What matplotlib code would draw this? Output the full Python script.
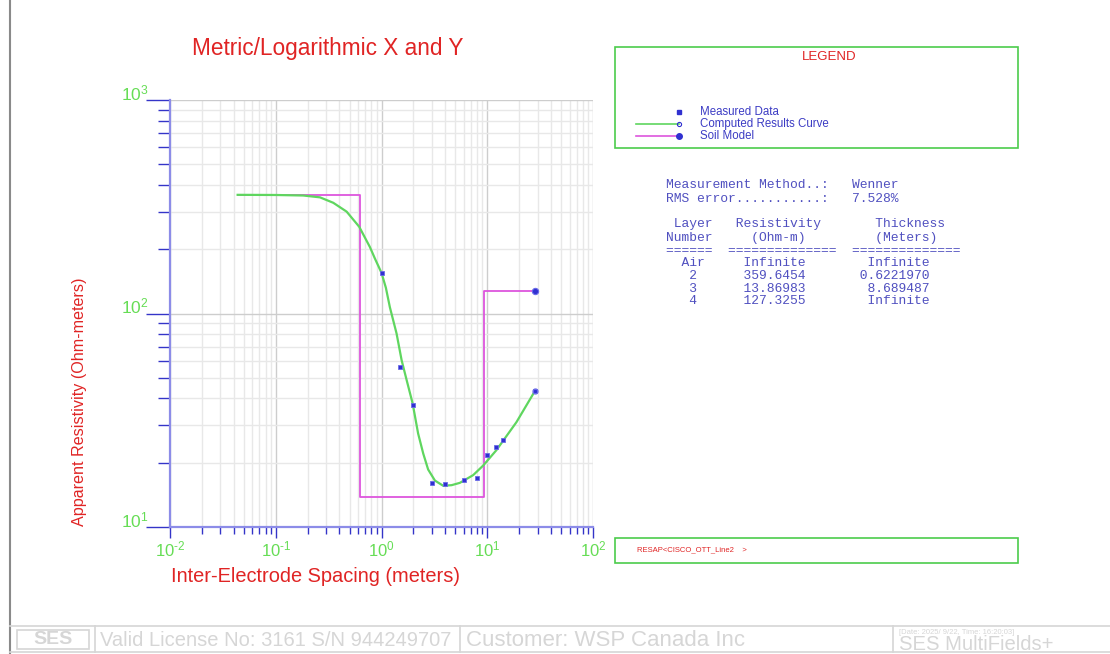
import numpy as np
import matplotlib
matplotlib.use("Agg")
import matplotlib.pyplot as plt
from matplotlib.ticker import LogLocator, NullFormatter
from matplotlib.transforms import blended_transform_factory
from matplotlib.patches import Rectangle

plt.rcParams['font.family'] = ['Liberation Sans', 'DejaVu Sans']
plt.rcParams['mathtext.fontset'] = 'custom'
plt.rcParams['mathtext.rm'] = 'Liberation Sans'
plt.rcParams['mathtext.it'] = 'Liberation Sans:italic'
plt.rcParams['mathtext.bf'] = 'Liberation Sans:bold'

# Measured apparent resistivity (Wenner array)
measured_x = [1, 1.5, 2, 3, 4, 6, 8, 10, 12, 14, 28]
measured_y = [154.6, 56.0, 37.4, 16.1, 15.9, 16.6, 17.0, 21.7, 23.7, 25.5, 43.3]

# Computed results curve
curve_x = [0.0436, 0.1, 0.182, 0.262, 0.35, 0.468, 0.615, 0.776, 0.866, 1.0, 1.1,
           1.2, 1.388, 1.55, 1.73, 1.97, 2.22, 2.48, 2.76, 3.2, 3.83, 4.6, 5.51,
           7.36, 9.15, 12.2, 18.9, 28.2]
curve_y = [359.6, 359, 357, 350, 330, 300, 255, 205, 181, 155, 132,
           107, 80.6, 60.4, 48.7, 37.9, 27.4, 22.1, 18.6, 16.5, 15.6, 15.7, 16.1,
           17.5, 19.4, 22.9, 31.0, 43.3]

# Soil model layers
layer_names = ['Air', '2', '3', '4']
layer_rho = [None, 359.6454, 13.86983, 127.3255]
layer_thick = [None, 0.6221970, 8.689487, None]
layer_rho_text = ['Infinite', '359.6454', '13.86983', '127.3255']
layer_thick_text = ['Infinite', '0.6221970', '8.689487', 'Infinite']
model_x_start = 0.0436
model_x_end = 28.2

x_ticks = [1e-2, 1e-1, 1e0, 1e1, 1e2]
x_tick_labels = ['$\\mathregular{10^{\u20102}}$', '$\\mathregular{10^{\u20101}}$',
                 r'$\mathregular{10^{0}}$', r'$\mathregular{10^{1}}$', r'$\mathregular{10^{2}}$']
y_ticks = [1e1, 1e2, 1e3]
y_tick_labels = [r'$\mathregular{10^{1}}$', r'$\mathregular{10^{2}}$', r'$\mathregular{10^{3}}$']

# staircase for the soil model
d1 = layer_thick[1]
d2 = layer_thick[1] + layer_thick[2]
model_x = [model_x_start, d1, d1, d2, d2, model_x_end]
model_y = [layer_rho[1], layer_rho[1], layer_rho[2], layer_rho[2], layer_rho[3], layer_rho[3]]

W, H = 1110, 654
fig = plt.figure(figsize=(W / 100, H / 100), dpi=100)
fig.patch.set_facecolor('white')

# page overlay in pixel coordinates
page = fig.add_axes([0, 0, 1, 1], zorder=0)
page.set_xlim(0, W)
page.set_ylim(H, 0)
page.axis('off')

ax = fig.add_axes([170 / W, 1 - 527 / H, 423 / W, 427 / H], zorder=1)
ax.set_xscale('log')
ax.set_yscale('log')
ax.set_xlim(1e-2, 1e2)
ax.set_ylim(1e1, 1e3)
ax.patch.set_alpha(0)

ax.xaxis.set_major_locator(LogLocator(base=10, numticks=10))
ax.xaxis.set_minor_locator(LogLocator(base=10, subs=np.arange(2, 10), numticks=20))
ax.yaxis.set_major_locator(LogLocator(base=10, numticks=10))
ax.yaxis.set_minor_locator(LogLocator(base=10, subs=np.arange(2, 10), numticks=20))
ax.xaxis.set_minor_formatter(NullFormatter())
ax.yaxis.set_minor_formatter(NullFormatter())

ax.grid(which='minor', color='#e8e8e8', lw=1.0)
ax.grid(which='major', color='#cdcdcd', lw=1.0)
ax.set_axisbelow(True)

tick_col = '#3434c8'
ax.tick_params(which='both', direction='out', colors=tick_col, width=1.0,
               labelleft=False, labelbottom=False)
ax.tick_params(axis='x', which='major', length=8)
ax.tick_params(axis='x', which='minor', length=5)
ax.tick_params(axis='y', which='major', length=17)
ax.tick_params(axis='y', which='minor', length=9)
for side in ['top', 'right']:
    ax.spines[side].set_visible(False)
for side in ['left', 'bottom']:
    ax.spines[side].set_color('#8c8ce8')
    ax.spines[side].set_linewidth(1.6)

green = '#5fd65f'
magenta = '#dd55dd'
blue = '#3030d0'

ax.plot(model_x, model_y, color=magenta, lw=1.3, zorder=3)
ax.plot(curve_x, curve_y, color=green, lw=1.6, zorder=4)
ax.plot(measured_x, measured_y, ls='none', marker='s', ms=3, color=blue,
        mec='#6a6ae8', mew=0.6, zorder=5)
ax.plot([curve_x[-1]], [curve_y[-1]], ls='none', marker='o', ms=3.5, mfc='none',
        mec='#6a6ae8', mew=1.0, zorder=6)
ax.plot([model_x[-1]], [model_y[-1]], ls='none', marker='o', ms=4.5, color=blue,
        mec='#6a6ae8', mew=0.8, zorder=6)

# tick labels
tx = blended_transform_factory(ax.transData, ax.transAxes)
for v, lab in zip(x_ticks, x_tick_labels):
    ax.text(v, -0.03, lab, transform=tx, ha='center', va='top', fontsize=12,
            color='#66dd55', clip_on=False)
ty = blended_transform_factory(ax.transAxes, ax.transData)
for v, lab in zip(y_ticks, y_tick_labels):
    ax.text(-0.05, v, lab, transform=ty, ha='right', va='baseline', fontsize=12.5,
            color='#66dd55', clip_on=False)

red = '#e02424'
page.text(192, 49, 'Metric/Logarithmic X and Y', color=red, fontsize=16.3, ha='left', va='center')
page.text(171, 577, 'Inter-Electrode Spacing (meters)', color=red, fontsize=14.4, ha='left', va='center')
page.text(80, 402, 'Apparent Resistivity (Ohm-meters)', color=red, fontsize=11.6,
          rotation=90, ha='center', va='center')

# legend box
box_green = '#4ccc4c'
page.add_patch(Rectangle((615, 47), 403, 101, fill=False, ec=box_green, lw=1.2))
page.text(829, 57, 'LEGEND', color=red, fontsize=9.5, ha='center', va='center')
leg_col = '#3c3cc4'
page.plot([679], [112], ls='none', marker='s', ms=2.5, color=blue)
page.plot([636, 679], [124, 124], color=green, lw=1.2)
page.plot([679], [124], ls='none', marker='o', ms=3, mfc='none', mec=blue, mew=0.8)
page.plot([636, 679], [136, 136], color=magenta, lw=1.2)
page.plot([679], [136], ls='none', marker='o', ms=4, color=blue)
for yy, txt in zip([112, 124, 136], ['Measured Data', 'Computed Results Curve', 'Soil Model']):
    page.text(700, yy, txt, color=leg_col, fontsize=8.3, ha='left', va='center')

# model summary
mono_col = '#5050c0'
fmt_rows = []
for name, rho_s, th_s in zip(layer_names, layer_rho_text, layer_thick_text):
    name_col = 2 if name == 'Air' else 3
    th_col = 25 if len(th_s) > 8 else 26
    row = ' ' * name_col + name
    row = row + ' ' * (10 - len(row)) + rho_s
    row = row + ' ' * (th_col - len(row)) + th_s
    fmt_rows.append(row)
summary = [
    'Measurement Method..:   Wenner',
    'RMS error...........:   7.528%',
    '',
    ' Layer   Resistivity       Thickness',
    'Number     (Ohm-m)         (Meters)',
    '======  ==============  ==============',
] + fmt_rows
row_y = [185, 198.5, None, 224.5, 238.5, 250.5, 263.5, 276, 288.5, 301]
for yy, line in zip(row_y, summary):
    if yy is None:
        continue
    page.text(666, yy, line, family='Liberation Mono', fontsize=9.4, color=mono_col,
              ha='left', va='center')

# bottom info box
page.add_patch(Rectangle((615, 538), 403, 25, fill=False, ec=box_green, lw=1.2))
page.text(637, 550, 'RESAP<CISCO_OTT_Line2    >', color=red, fontsize=5.5, ha='left', va='center')

# page frame and footer
frame_col = '#8a8a8a'
page.plot([10, 10], [0, H], color=frame_col, lw=1.5)
foot = '#d6d6d6'
page.plot([10, W], [626, 626], color=foot, lw=1.2)
page.plot([10, W], [652, 652], color=foot, lw=1.2)
for xx in [95, 460, 893]:
    page.plot([xx, xx], [626, 652], color=foot, lw=1.2)
page.add_patch(Rectangle((17, 630), 72, 19, fill=False, ec=foot, lw=1.2))
page.text(53, 640, 'SES', color=foot, fontsize=14, fontweight='bold', ha='center', va='center')
page.text(100, 641, 'Valid License No: 3161 S/N 944249707', color=foot, fontsize=14.5,
          ha='left', va='center')
page.text(466, 641, 'Customer: WSP Canada Inc', color=foot, fontsize=16, ha='left', va='center')
page.text(899, 632, '[Date: 2025/ 9/22, Time: 16:20:03]', color=foot, fontsize=5.5,
          ha='left', va='center')
page.text(899, 644, 'SES MultiFields+', color=foot, fontsize=14.6, ha='left', va='center')

fig.savefig('out.png', dpi=100, facecolor='white')
